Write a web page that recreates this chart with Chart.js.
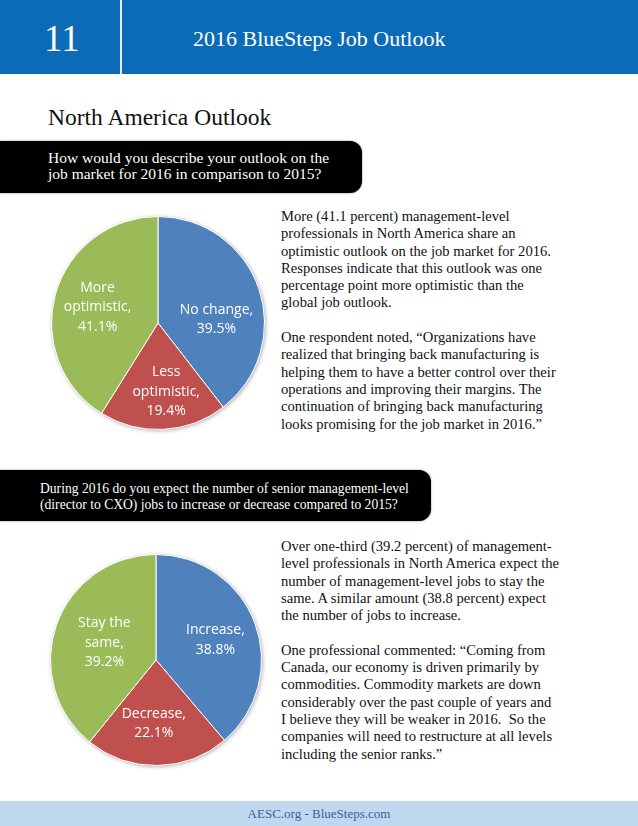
<!DOCTYPE html>
<html>
<head>
<meta charset="utf-8">
<script src="https://cdn.jsdelivr.net/npm/chart.js@4.4.1/dist/chart.umd.min.js"></script>
<style>
  html, body { margin: 0; padding: 0; background: #fff; }
  body { width: 638px; height: 826px; position: relative; overflow: hidden; font-family: "Liberation Serif", serif; color: #111; }
  .header { position: absolute; left: 0; top: 0; width: 638px; height: 74px; background: #0c6bb7; }
  .header .sep { position: absolute; left: 120px; top: 0; width: 2px; height: 74px; background: #e8eef5; }
  .header .num { position: absolute; left: 44px; top: 17px; font-size: 37px; line-height: 44px; color: #fff; }
  .header .title { position: absolute; left: 193px; top: 25px; font-size: 22px; line-height: 28px; color: #fff; }
  .section { position: absolute; left: 48px; top: 102px; font-size: 23.5px; line-height: 30px; }
  .qbox { position: absolute; left: 0; background: #000; color: #fff; border-radius: 0 12px 12px 0; box-shadow: 0 0 2px #777; white-space: nowrap; }
  .q1 { top: 141px; width: 362px; height: 52px; font-size: 15.5px; line-height: 16px; }
  .q1 div { position: absolute; left: 48px; top: 9px; }
  .q2 { top: 470px; width: 431px; height: 51px; font-size: 13.6px; line-height: 16px; }
  .q2 div { position: absolute; left: 40px; top: 11px; }
  .para { position: absolute; left: 281px; font-size: 14.6px; line-height: 17.3px; white-space: nowrap; margin: 0; }
  .p1 { top: 208px; }
  .p2 { top: 538px; }
  .pie { position: absolute; }
  .footer { position: absolute; left: 0; top: 801px; width: 638px; height: 25px; background: #bfd8ed; text-align: center; font-size: 13px; line-height: 25px; color: #3d5d9c; }
</style>
</head>
<body>
<div class="header">
  <div class="num">11</div>
  <div class="sep"></div>
  <div class="title">2016 BlueSteps Job Outlook</div>
</div>
<div class="section">North America Outlook</div>
<div class="qbox q1"><div>How would you describe your outlook on the<br>job market for 2016 in comparison to 2015?</div></div>
<p class="para p1">More (41.1 percent) management-level<br>professionals in North America share an<br>optimistic outlook on the job market for 2016.<br>Responses indicate that this outlook was one<br>percentage point more optimistic than the<br>global job outlook.<br><br>One respondent noted, “Organizations have<br>realized that bringing back manufacturing is<br>helping them to have a better control over their<br>operations and improving their margins. The<br>continuation of bringing back manufacturing<br>looks promising for the job market in 2016.”</p>
<div class="qbox q2"><div>During 2016 do you expect the number of senior management-level<br>(director to CXO) jobs to increase or decrease compared to 2015?</div></div>
<p class="para p2">Over one-third (39.2 percent) of management-<br>level professionals in North America expect the<br>number of management-level jobs to stay the<br>same. A similar amount (38.8 percent) expect<br>the number of jobs to increase.<br><br>One professional commented: “Coming from<br>Canada, our economy is driven primarily by<br>commodities. Commodity markets are down<br>considerably over the past couple of years and<br>I believe they will be weaker in 2016.&nbsp; So the<br>companies will need to restructure at all levels<br>including the senior ranks.”</p>
<div class="pie" style="left:47px;top:212px;width:222px;height:222px;"><canvas id="pie1"></canvas></div>
<div class="pie" style="left:46px;top:550px;width:220px;height:220px;"><canvas id="pie2"></canvas></div>
<div class="footer">AESC.org - BlueSteps.com</div>

<script>
// survey answers, North America
const outlookCategories = ['No change', 'Less optimistic', 'More optimistic'];
const outlookValues = [39.5, 19.4, 41.1];

const jobsCategories = ['Increase', 'Decrease', 'Stay the same'];
const jobsValues = [38.8, 22.1, 39.2];

const sliceColors = ['#4f81bd', '#c0504d', '#9bbb59'];

// white in-slice labels like Excel: "Category, 12.3%"
const sliceLabels = {
  id: 'sliceLabels',
  beforeDatasetsDraw(chart) {
    // soft shadow under the whole pie
    const arc = chart.getDatasetMeta(0).data[0];
    if (!arc) return;
    const ctx = chart.ctx;
    ctx.save();
    ctx.shadowColor = 'rgba(0,0,0,0.35)';
    ctx.shadowBlur = 4;
    ctx.shadowOffsetX = 1;
    ctx.shadowOffsetY = 1;
    ctx.fillStyle = '#fff';
    ctx.beginPath();
    ctx.arc(arc.x, arc.y, arc.outerRadius, 0, Math.PI * 2);
    ctx.fill();
    ctx.restore();
  },
  afterDatasetsDraw(chart, args, opts) {
    const ctx = chart.ctx;
    const meta = chart.getDatasetMeta(0);
    const values = chart.data.datasets[0].data;
    ctx.save();
    ctx.font = '14px "Open Sans", sans-serif';
    ctx.fillStyle = '#fff';
    ctx.textAlign = 'center';
    ctx.textBaseline = 'middle';
    meta.data.forEach((el, i) => {
      const mid = (el.startAngle + el.endAngle) / 2;
      const nudge = (opts.nudge && opts.nudge[i]) || [0, 0];
      const x = el.x + Math.cos(mid) * el.outerRadius * opts.dist + nudge[0];
      const y = el.y + Math.sin(mid) * el.outerRadius * opts.dist + nudge[1];
      // wrap the category name like Excel does
      const words = (chart.data.labels[i] + ',').split(' ');
      const lines = [];
      let cur = '';
      words.forEach(w => {
        const t = cur ? cur + ' ' + w : w;
        if (cur && ctx.measureText(t).width > opts.wrap) { lines.push(cur); cur = w; } else cur = t;
      });
      lines.push(cur);
      lines.push(values[i].toFixed(1) + '%');
      const lh = 19.5;
      const y0 = y - (lines.length - 1) * lh / 2;
      lines.forEach((l, k) => ctx.fillText(l, x, y0 + k * lh));
    });
    ctx.restore();
  }
};

function makePie(id, labels, values, nudge) {
  new Chart(document.getElementById(id), {
    type: 'pie',
    data: {
      labels: labels,
      datasets: [{
        data: values,
        backgroundColor: sliceColors,
        borderColor: '#fff',
        borderWidth: 1
      }]
    },
    options: {
      responsive: true,
      maintainAspectRatio: false,
      animation: false,
      layout: { padding: 4 },
      plugins: {
        legend: { display: false },
        tooltip: { enabled: false },
        sliceLabels: { dist: 0.6, wrap: 84, nudge: nudge }
      }
    },
    plugins: [sliceLabels]
  });
}

makePie('pie1', outlookCategories, outlookValues, [[-2, 17], [5, 5], [1, 2]]);
makePie('pie2', jobsCategories, jobsValues, [[0, 2], [-3, 0], [8, 4]]);
</script>
</body>
</html>
